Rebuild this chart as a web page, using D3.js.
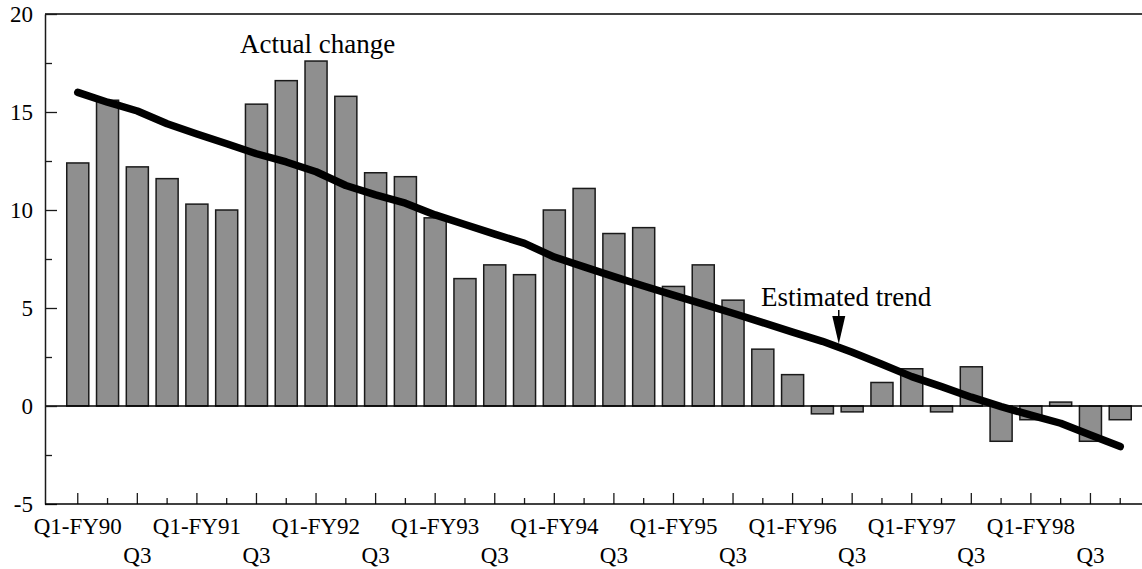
<!DOCTYPE html>
<html>
<head>
<meta charset="utf-8">
<script src="https://cdn.jsdelivr.net/npm/d3@7"></script>
<style>
    body { margin: 0; background: #fff; }
    svg { display: block; }
    svg text { font-family: "Liberation Serif", "Times New Roman", Times, serif; }
</style>
</head>
<body>
<svg id="chart" width="1142" height="569"></svg>
<script>
'use strict';

/* global d3 */

var quarters = [
    "Q1-FY90", "Q2-FY90", "Q3-FY90", "Q4-FY90",
    "Q1-FY91", "Q2-FY91", "Q3-FY91", "Q4-FY91",
    "Q1-FY92", "Q2-FY92", "Q3-FY92", "Q4-FY92",
    "Q1-FY93", "Q2-FY93", "Q3-FY93", "Q4-FY93",
    "Q1-FY94", "Q2-FY94", "Q3-FY94", "Q4-FY94",
    "Q1-FY95", "Q2-FY95", "Q3-FY95", "Q4-FY95",
    "Q1-FY96", "Q2-FY96", "Q3-FY96", "Q4-FY96",
    "Q1-FY97", "Q2-FY97", "Q3-FY97", "Q4-FY97",
    "Q1-FY98", "Q2-FY98", "Q3-FY98", "Q4-FY98"
];

var actualChange = [
    12.4, 15.6, 12.2, 11.6, 10.3, 10.0, 15.4, 16.6,
    17.6, 15.8, 11.9, 11.7, 9.6, 6.5, 7.2, 6.7,
    10.0, 11.1, 8.8, 9.1, 6.1, 7.2, 5.4, 2.9,
    1.6, -0.4, -0.3, 1.2, 1.9, -0.3, 2.0, -1.8,
    -0.7, 0.2, -1.8, -0.7
];

var estimatedTrend = [
    16.0, 15.5, 15.05, 14.4, 13.88, 13.38, 12.87, 12.45,
    11.95, 11.25, 10.77, 10.35, 9.75, 9.26, 8.77, 8.3,
    7.6, 7.1, 6.6, 6.12, 5.66, 5.2, 4.73, 4.25,
    3.77, 3.3, 2.74, 2.13, 1.5, 0.99, 0.45, -0.03,
    -0.47, -0.88, -1.48, -2.07
];

var yTicks = [-5, -2.5, 0, 2.5, 5, 7.5, 10, 12.5, 15, 17.5, 20];
var yTickLabels = ["-5", "", "0", "", "5", "", "10", "", "15", "", "20"];

var svg = d3.select("#chart");

var plotLeft = 45, plotTop = 14, plotBottom = 504, plotRight = 1142;

var x = d3.scaleBand()
    .domain(quarters)
    .range([plotLeft, 1153])
    .paddingInner(0.26)
    .paddingOuter(0.73);

var y = d3.scaleLinear()
    .domain([-5, 20])
    .range([plotBottom, plotTop]);

function xCenter(q) {
    return x(q) + x.bandwidth() / 2;
}

// position between quarters, for the annotation arrow
function xAt(i) {
    return xCenter(quarters[0]) + i * x.step();
}

// top rule
svg.append("line")
    .attr("x1", plotLeft).attr("x2", plotRight)
    .attr("y1", plotTop).attr("y2", plotTop)
    .style("stroke", "#404040")
    .style("stroke-width", 2);

// bars
svg.append("g")
    .attr("class", "bars")
    .selectAll("rect")
    .data(actualChange)
    .enter()
    .append("rect")
    .attr("x", function (d, i) { return x(quarters[i]); })
    .attr("width", x.bandwidth())
    .attr("y", function (d) { return y(Math.max(d, 0)); })
    .attr("height", function (d) { return Math.abs(y(d) - y(0)); })
    .style("fill", "#8f8f8f")
    .style("stroke", "#1a1a1a")
    .style("stroke-width", 1.5);

// zero line
svg.append("line")
    .attr("x1", plotLeft).attr("x2", plotRight)
    .attr("y1", y(0)).attr("y2", y(0))
    .style("stroke", "#000")
    .style("stroke-width", 1.5);

// y axis
var yAxis = d3.axisRight(y)
    .tickValues(yTicks)
    .tickSize(0)
    .tickFormat("");

var gY = svg.append("g")
    .attr("transform", "translate(" + plotLeft + ",0)")
    .call(yAxis);
gY.select(".domain").style("stroke", "#1a1a1a").style("stroke-width", 1.5);

gY.selectAll(".tick line")
    .attr("x2", function (d, i) { return yTickLabels[i] === "" ? 7 : 12; })
    .style("stroke", "#1a1a1a")
    .style("stroke-width", 1.3);

svg.append("g")
    .selectAll("text")
    .data(yTicks)
    .enter()
    .append("text")
    .attr("x", 33)
    .attr("y", function (d) { return y(d); })
    .attr("dy", "0.34em")
    .attr("text-anchor", "end")
    .style("font-size", "23px")
    .text(function (d, i) { return yTickLabels[i]; });

// x axis
var xAxis = d3.axisTop(x)
    .tickSize(0)
    .tickFormat("");

var gX = svg.append("g")
    .attr("transform", "translate(0," + plotBottom + ")")
    .call(xAxis);
gX.select(".domain").remove();
gX.selectAll(".tick line")
    .attr("y2", function (d, i) { return i % 2 === 0 ? -11 : -6; })
    .style("stroke", "#1a1a1a")
    .style("stroke-width", 1.3);

svg.append("line")
    .attr("x1", plotLeft).attr("x2", plotRight)
    .attr("y1", plotBottom).attr("y2", plotBottom)
    .style("stroke", "#000")
    .style("stroke-width", 1.5);

svg.append("g")
    .selectAll("text")
    .data(quarters.filter(function (q, i) { return i % 2 === 0; }))
    .enter()
    .append("text")
    .attr("x", function (d) { return xCenter(d); })
    .attr("y", function (d) { return d.indexOf("Q1") === 0 ? 534 : 563; })
    .attr("text-anchor", "middle")
    .style("font-size", "23px")
    .text(function (d) { return d.indexOf("Q1") === 0 ? d : "Q3"; });

// trend line
var line = d3.line()
    .x(function (d, i) { return xCenter(quarters[i]); })
    .y(function (d) { return y(d); });

svg.append("path")
    .datum(estimatedTrend)
    .attr("d", line)
    .style("fill", "none")
    .style("stroke", "#000")
    .style("stroke-width", 7.5)
    .style("stroke-linecap", "round")
    .style("stroke-linejoin", "round");

// annotations
svg.append("text")
    .attr("x", 240)
    .attr("y", 53)
    .style("font-size", "27px")
    .text("Actual change");

svg.append("text")
    .attr("x", 761)
    .attr("y", 306)
    .style("font-size", "27px")
    .text("Estimated trend");

var ax = xAt(25.55);
var tipY = y(3.16);
svg.append("line")
    .attr("x1", ax).attr("x2", ax)
    .attr("y1", 310).attr("y2", tipY - 20)
    .style("stroke", "#000")
    .style("stroke-width", 1.5);
svg.append("path")
    .attr("d", "M" + (ax - 6.5) + "," + (tipY - 28) + "L" + (ax + 6.5) + "," + (tipY - 28) + "L" + ax + "," + tipY + "Z")
    .style("fill", "#000");
</script>
</body>
</html>
